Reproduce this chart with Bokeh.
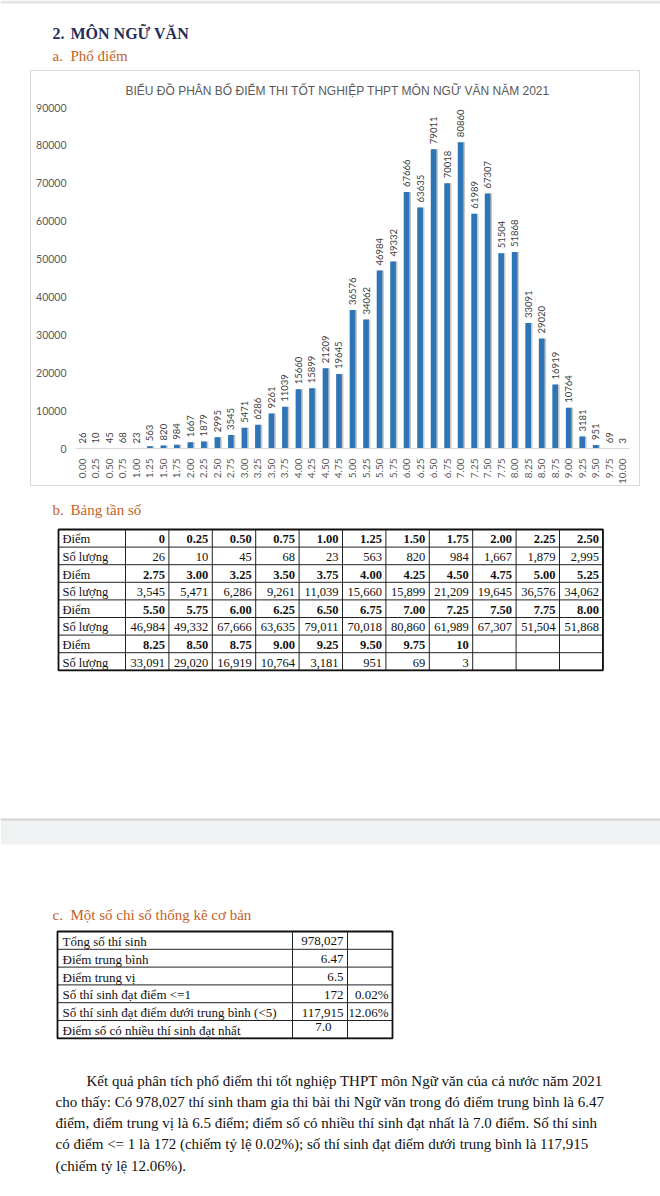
import math
from bokeh.plotting import figure
from bokeh.models import Range1d, FactorRange, ColumnDataSource, FixedTicker, NumeralTickFormatter, Spacer
from bokeh.layouts import column, row
from bokeh.transform import dodge
from bokeh.core.properties import value
from bokeh.embed import file_html
from bokeh.resources import INLINE

# ---------------- data ----------------
x_labels = ["0.00", "0.25", "0.50", "0.75", "1.00", "1.25", "1.50", "1.75", "2.00", "2.25",
            "2.50", "2.75", "3.00", "3.25", "3.50", "3.75", "4.00", "4.25", "4.50", "4.75",
            "5.00", "5.25", "5.50", "5.75", "6.00", "6.25", "6.50", "6.75", "7.00", "7.25",
            "7.50", "7.75", "8.00", "8.25", "8.50", "8.75", "9.00", "9.25", "9.50", "9.75", "10.00"]
counts = [26, 10, 45, 68, 23, 563, 820, 984, 1667, 1879,
          2995, 3545, 5471, 6286, 9261, 11039, 15660, 15899, 21209, 19645,
          36576, 34062, 46984, 49332, 67666, 63635, 79011, 70018, 80860, 61989,
          67307, 51504, 51868, 33091, 29020, 16919, 10764, 3181, 951, 69, 3]
y_ticks = [0, 10000, 20000, 30000, 40000, 50000, 60000, 70000, 80000, 90000]
table_labels = ["0"] + x_labels[1:-1] + ["10"]

chart_title = "BIỂU ĐỒ PHÂN BỐ ĐIỂM THI TỐT NGHIỆP THPT MÔN NGỮ VĂN NĂM 2021"
section_title = ("2.", "MÔN NGỮ VĂN")
sub_a = ("a.", "Phổ điểm")
sub_b = ("b.", "Bảng tần số")
sub_c = ("c.", "Một số chi số thống kê cơ bản")
row_label_score = "Điểm"
row_label_count = "Số lượng"

stat_labels = ["Tổng số thí sinh", "Điểm trung bình", "Điểm trung vị",
               "Số thí sinh đạt điểm <=1", "Số thí sinh đạt điểm dưới trung bình (<5)",
               "Điểm số có nhiều thí sinh đạt nhất"]
stat_values = ["978,027", "6.47", "6.5", "172", "117,915", "7.0"]
stat_pcts = ["", "", "", "0.02%", "12.06%", ""]

paragraph = [
    "Kết quả phân tích phổ điểm thi tốt nghiệp THPT môn Ngữ văn của cả nước năm 2021",
    "cho thấy: Có 978,027 thí sinh tham gia thi bài thi Ngữ văn trong đó điểm trung bình là 6.47",
    "điểm, điểm trung vị là 6.5 điểm; điểm số có nhiều thí sinh đạt nhất là 7.0 điểm. Số thí sinh",
    "có điểm <= 1 là 172 (chiếm tỷ lệ 0.02%); số thí sinh đạt điểm dưới trung bình là 117,915",
    "(chiếm tỷ lệ 12.06%).",
]

# ---------------- styles ----------------
SERIF = "Liberation Serif"
SANS = "Liberation Sans"
NUM = "Lato"
NAVY = "#1F2E5A"
ORANGE = "#C5611F"
BAR = "#2E75B6"
GREY_TXT = "#595959"


def blank(width, height, y0, y1):
    f = figure(width=width, height=height, x_range=Range1d(0, 660), y_range=Range1d(y1, y0),
               x_axis_location=None, y_axis_location=None, toolbar_location=None,
               output_backend="svg", min_border=0)
    f.grid.visible = False
    f.outline_line_color = None
    return f


def put(f, x, y, txt, size, color="#000000", style="normal", font=SERIF, align="left", dy=0):
    f.text(x=[x], y=[y], text=[txt], text_font=value(font), text_font_size=size,
           text_font_style=style, text_color=color, text_align=align,
           text_baseline="middle", y_offset=dy)


# ---------------- header ----------------
head = blank(660, 70, 0, 70)
head.quad(left=[0], right=[660], top=[0], bottom=[3], fill_color="#E4E4E4", line_color=None)
put(head, 52, 33, section_title[0], "16px", NAVY, "bold")
put(head, 70, 33, section_title[1], "16px", NAVY, "bold")
put(head, 52, 55, sub_a[0], "15px", ORANGE)
put(head, 70, 55, sub_a[1], "15px", ORANGE)

# ---------------- bar chart ----------------
chart = figure(width=610, height=416, x_range=FactorRange(factors=x_labels, range_padding=0),
               y_range=Range1d(0, 90000), toolbar_location=None, output_backend="svg",
               min_border_left=44, min_border_right=12, min_border_top=36, min_border_bottom=35,
               title=chart_title, styles={"border": "1px solid #D9D9D9"})
chart.title.align = "left"
chart.title.offset = 50
chart.title.standoff = 19
chart.title.text_font = SANS
chart.title.text_font_size = "12px"
chart.title.text_font_style = "normal"
chart.title.text_color = GREY_TXT
chart.grid.visible = False
chart.outline_line_color = None

src = ColumnDataSource(dict(x=x_labels, top=counts, label=[str(c) for c in counts]))
chart.vbar(x=dodge("x", 0.12, range=chart.x_range), top="top", width=0.42, source=src,
           fill_color="#000000", fill_alpha=0.22, line_color=None)
chart.vbar(x="x", top="top", width=0.42, source=src, fill_color=BAR, line_color=None)
chart.text(x="x", y="top", text="label", source=src, angle=math.pi / 2, text_align="left",
           text_baseline="middle", y_offset=-5, text_font=value(NUM), text_font_size="9.5px",
           text_color="#404040")

chart.xaxis.major_label_orientation = math.pi / 2
chart.xaxis.major_tick_line_color = None
chart.xaxis.axis_line_color = "#D9D9D9"
chart.xaxis.major_label_text_font = NUM
chart.xaxis.major_label_text_font_size = "10px"
chart.xaxis.major_label_text_color = GREY_TXT
chart.xaxis.major_label_standoff = 4

chart.yaxis.ticker = FixedTicker(ticks=y_ticks)
chart.yaxis.formatter = NumeralTickFormatter(format="0")
chart.yaxis.axis_line_color = None
chart.yaxis.major_tick_line_color = None
chart.yaxis.minor_tick_line_color = None
chart.yaxis.major_label_text_font = NUM
chart.yaxis.major_label_text_font_size = "10.5px"
chart.yaxis.major_label_text_color = GREY_TXT
chart.yaxis.major_label_standoff = 3

# ---------------- lower part ----------------
low = blank(660, 706, 488, 1194)
put(low, 52, 511, sub_b[0], "15px", ORANGE)
put(low, 70, 511, sub_b[1], "15px", ORANGE)

# frequency table
ft_left, ft_top, ft_c0, ft_cw, ft_rh = 58, 531, 67, 43.4, 17.6
n_per_row, n_blocks = 11, 4
ft_right = ft_left + ft_c0 + n_per_row * ft_cw
ft_bottom = ft_top + 2 * n_blocks * ft_rh
hx, hy, ht, cx, cy, ct, lx, ly, lt = [], [], [], [], [], [], [], [], []
for b in range(n_blocks):
    yh = ft_top + (2 * b + 0.5) * ft_rh
    yc = ft_top + (2 * b + 1.5) * ft_rh
    lx += [ft_left + 4, ft_left + 4]
    ly += [yh, yc]
    lt += [row_label_score, row_label_count]
    for c in range(n_per_row):
        i = b * n_per_row + c
        if i >= len(counts):
            break
        xr = ft_left + ft_c0 + (c + 1) * ft_cw - 4
        hx.append(xr); hy.append(yh); ht.append(table_labels[i])
        cx.append(xr); cy.append(yc); ct.append(f"{counts[i]:,}")

hs_y = [ft_top + k * ft_rh for k in range(2 * n_blocks + 1)]
low.segment(x0=[ft_left] * len(hs_y), x1=[ft_right] * len(hs_y), y0=hs_y, y1=hs_y,
            line_color="#222222", line_width=1)
vs_x = [ft_left] + [ft_left + ft_c0 + k * ft_cw for k in range(n_per_row + 1)]
low.segment(x0=vs_x, x1=vs_x, y0=[ft_top] * len(vs_x), y1=[ft_bottom] * len(vs_x),
            line_color="#222222", line_width=1)
low.quad(left=[ft_left], right=[ft_right], top=[ft_top], bottom=[ft_bottom],
         fill_color=None, line_color="#111111", line_width=1.8)
low.text(x=lx, y=ly, text=lt, text_font=value(SERIF), text_font_size="12.5px",
         text_baseline="middle", text_color="#111111", y_offset=1)
low.text(x=hx, y=hy, text=ht, text_font=value(SERIF), text_font_size="12.5px",
         text_font_style="bold", text_align="right", text_baseline="middle",
         text_color="#111111", y_offset=1)
low.text(x=cx, y=cy, text=ct, text_font=value(SERIF), text_font_size="12.5px",
         text_align="right", text_baseline="middle", text_color="#111111", y_offset=1)

# page break band
low.quad(left=[0], right=[660], top=[821], bottom=[846], fill_color="#F0F1F3", line_color=None)
low.segment(x0=[0], x1=[660], y0=[821], y1=[821], line_color="#D2D2D4", line_width=2)

put(low, 52, 916, sub_c[0], "15px", ORANGE)
put(low, 70, 916, sub_c[1], "15px", ORANGE)

# stats table
st_left, st_top, st_rh = 57, 933, 17.8
st_cols = [0, 235, 290, 335]
n_st = len(stat_labels)
st_bottom = st_top + n_st * st_rh
st_hy = [st_top + k * st_rh for k in range(n_st + 1)]
low.segment(x0=[st_left] * len(st_hy), x1=[st_left + st_cols[-1]] * len(st_hy),
            y0=st_hy, y1=st_hy, line_color="#222222", line_width=1)
st_vx = [st_left + c for c in st_cols]
low.segment(x0=st_vx, x1=st_vx, y0=[st_top] * 4, y1=[st_bottom] * 4,
            line_color="#222222", line_width=1)
low.quad(left=[st_left], right=[st_left + st_cols[-1]], top=[st_top], bottom=[st_bottom],
         fill_color=None, line_color="#111111", line_width=1.8)
st_y = [st_top + (k + 0.5) * st_rh for k in range(n_st)]
low.text(x=[st_left + 5] * n_st, y=st_y, text=stat_labels, text_font=value(SERIF),
         text_font_size="13px", text_baseline="middle", text_color="#111111", y_offset=1)
val_x = [st_left + st_cols[2] - 4] * (n_st - 1) + [st_left + st_cols[2] - 16]
val_dy = [1] * (n_st - 1) + [-2]
low.text(x=val_x, y=st_y, text=stat_values, text_font=value(SERIF), y_offset=val_dy,
         text_font_size="13px", text_align="right", text_baseline="middle", text_color="#111111")
low.text(x=[st_left + st_cols[3] - 4] * n_st, y=st_y, text=stat_pcts, text_font=value(SERIF),
         text_font_size="13px", text_align="right", text_baseline="middle", text_color="#111111",
         y_offset=1)

# paragraph
p_x = [86] + [55] * (len(paragraph) - 1)
p_y = [1082 + k * 21.3 for k in range(len(paragraph))]
low.text(x=p_x, y=p_y, text=paragraph, text_font=value(SERIF), text_font_size="15px",
         text_baseline="middle", text_color="#111111")

layout = column(head, row(Spacer(width=30, height=416), chart), low)
open("out.html", "w").write(file_html(layout, INLINE))
